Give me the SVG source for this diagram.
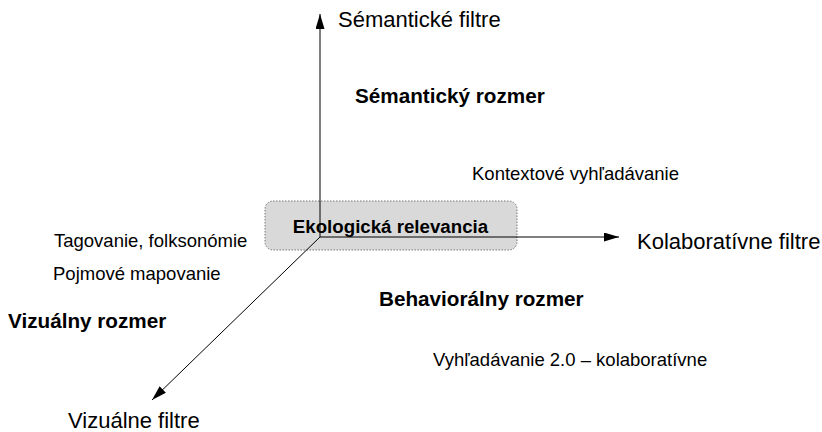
<svg xmlns="http://www.w3.org/2000/svg" width="822" height="432" viewBox="0 0 822 432">
<style>
text{font-family:"Liberation Sans",Arial,sans-serif;fill:#000}
.big{font-size:22px}
.b{font-size:20.7px;font-weight:bold}
.s{font-size:18.5px}
.ax{stroke:#000;stroke-width:1;fill:none;marker-end:url(#ah)}
</style>
<defs>
<marker id="ah" markerWidth="15" markerHeight="9" refX="15" refY="4.5" orient="auto" markerUnits="userSpaceOnUse">
<path d="M0,0 L15,4.5 L0,9 Z" fill="#000"/>
</marker>
</defs>
<g id="center">
<rect x="265" y="201" width="252" height="49" rx="8" fill="#d9d9d9" stroke="#777" stroke-width="1" stroke-dasharray="1.5,1.5"/>
</g>
<g id="connectors">
<line class="ax" x1="320" y1="237" x2="320" y2="14"/>
<line class="ax" x1="320" y1="237" x2="619" y2="237"/>
<line class="ax" x1="320" y1="237" x2="152" y2="400"/>
</g>
<g id="center-label"><text x="390.5" y="233" text-anchor="middle" style="font-size:18.7px;font-weight:bold">Ekologická relevancia</text></g>
<g id="semantic-filter"><text class="big" x="338" y="27">Sémantické filtre</text></g>
<g id="semantic-dim"><text class="b" x="355" y="103">Sémantický rozmer</text></g>
<g id="context"><text class="s" x="472" y="180">Kontextové vyhľadávanie</text></g>
<g id="collab-filter"><text class="big" x="637" y="249">Kolaboratívne filtre</text></g>
<g id="tag"><text class="s" x="54" y="247">Tagovanie, folksonómie</text></g>
<g id="concept"><text class="s" x="53" y="280">Pojmové mapovanie</text></g>
<g id="behav-dim"><text class="b" x="379" y="306">Behaviorálny rozmer</text></g>
<g id="visual-dim"><text class="b" x="8" y="328">Vizuálny rozmer</text></g>
<g id="search20"><text class="s" x="433" y="366">Vyhľadávanie 2.0 – kolaboratívne</text></g>
<g id="visual-filter"><text class="big" x="68" y="428">Vizuálne filtre</text></g>
</svg>
